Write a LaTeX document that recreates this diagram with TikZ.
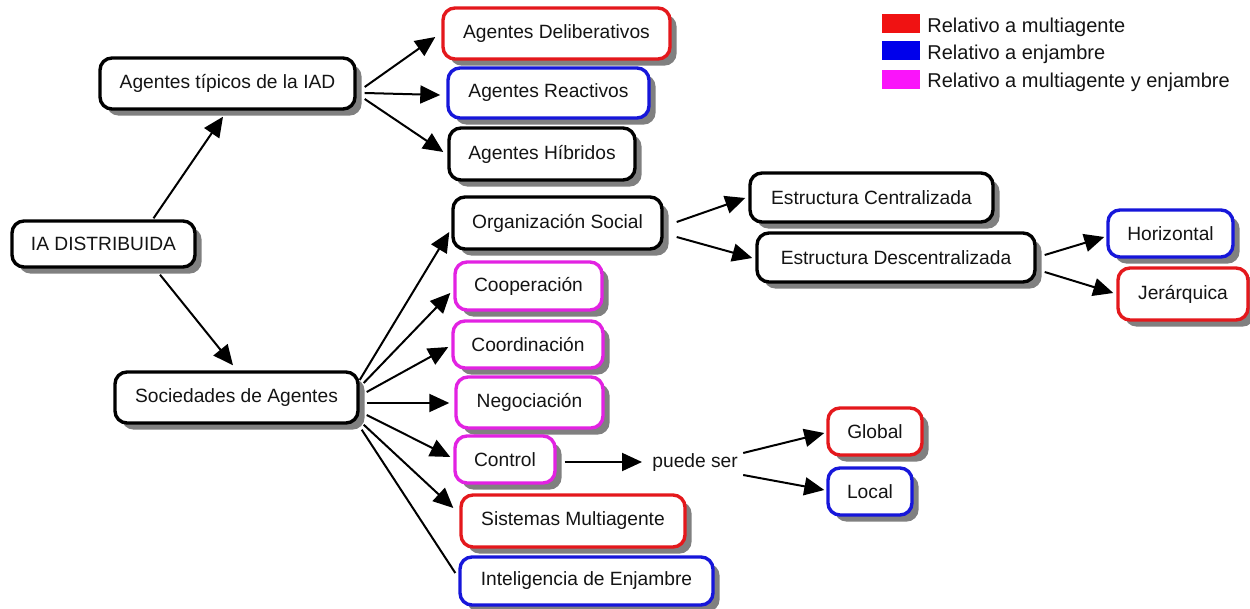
\documentclass[tikz,border=0pt]{standalone}
\usepackage{fontspec}
\setmainfont{Liberation Sans}
\usetikzlibrary{shadows,calc,arrows.meta}

\definecolor{bred}{RGB}{228,24,28}
\definecolor{bblue}{RGB}{22,22,218}
\definecolor{bmag}{RGB}{226,34,226}
\definecolor{lred}{RGB}{240,18,18}
\definecolor{lblue}{RGB}{0,0,235}
\definecolor{lmag}{RGB}{250,20,250}
\definecolor{shgray}{RGB}{128,128,128}
\definecolor{ink}{RGB}{20,20,20}

\newcommand\mapfont{\fontsize{9.6pt}{11pt}\selectfont}
\newcommand\legfont{\fontsize{10pt}{12pt}\selectfont}

\begin{document}
\begin{tikzpicture}[x=0.5pt,y=-0.5pt,
  box/.style={draw=black, rounded corners=6pt, line width=1.7pt, fill=white,
    inner sep=0pt, font=\mapfont, text=ink,
    general shadow={shadow xshift=3.3pt, shadow yshift=-3.3pt, fill=shgray}},
  sz/.style 2 args={minimum width=#1*0.5pt, minimum height=#2*0.5pt},
  redbox/.style={box, draw=bred},
  bluebox/.style={box, draw=bblue},
  magbox/.style={box, draw=bmag},
  arr/.style={line width=1pt, -{Triangle[length=10pt,width=9pt]}},
  ln/.style={line width=1pt},
  legsq/.style={inner sep=0pt, minimum width=19pt, minimum height=9.5pt},
  plain/.style={anchor=west, inner sep=0pt, font=\mapfont, text=ink},
  legtxt/.style={anchor=base west, inner sep=0pt, font=\legfont, text=ink}]

\useasboundingbox (0,0) rectangle (1250,609);

% concept boxes
\node[box, sz={183}{46}] (ia) at (103.5,244) {IA DISTRIBUIDA};
\node[box, sz={255}{51}] (tip) at (227.5,83.5) {Agentes típicos de la IAD};
\node[redbox, sz={227}{51}] (del) at (556.5,33.5) {Agentes Deliberativos};
\node[bluebox, sz={201}{50}] (rea) at (548.5,93) {Agentes Reactivos};
\node[box, sz={186}{52}] (hib) at (542,154) {Agentes Híbridos};
\node[box, sz={209}{52}] (org) at (557.5,223) {Organización Social};
\node[box, sz={243}{49}] (cen) at (871.5,197.5) {Estructura Centralizada};
\node[box, sz={278}{49}] (des) at (896,257.5) {Estructura Descentralizada};
\node[bluebox, sz={125}{47}] (hor) at (1170.5,233.5) {Horizontal};
\node[redbox, sz={130}{52}] (jer) at (1183,294) {Jerárquica};
\node[box, sz={243}{51}] (soc) at (236.5,397.5) {Sociedades de Agentes};
\node[magbox, sz={147}{48}] (coop) at (528.5,286) {Cooperación};
\node[magbox, sz={150}{47}] (coord) at (528,344.5) {Coordinación};
\node[magbox, sz={147}{51}] (neg) at (529.5,402.5) {Negociación};
\node[magbox, sz={100}{47}] (con) at (505,459.5) {Control};
\node[redbox, sz={224}{52}] (sma) at (573,521) {Sistemas Multiagente};
\node[bluebox, sz={253}{48}] (ie) at (586.5,581) {Inteligencia de Enjambre};
\node[redbox, sz={94}{47}] (glo) at (875,431.5) {Global};
\node[bluebox, sz={84}{47}] (loc) at (870,491.5) {Local};
\node[plain] (ps) at (652,463) {puede ser};

% connectors
\draw[arr] ($(ia.north)+(50,-1)$) -- ($(tip.south)+(-4.5,6)$);
\draw[arr] ($(ia.south)+(56.5,6)$) -- ($(soc.north)+(-3.5,-5)$);
\draw[arr] ($(tip.east)+(8,3.5)$) -- ($(del.west)+(-6,3.5)$);
\draw[arr] ($(tip.east)+(8,9.5)$) -- ($(rea.west)+(-6,2)$);
\draw[arr] ($(tip.east)+(8,15.5)$) -- ($(hib.west)+(-4,-2)$);
\draw[arr] ($(org.east)+(13,-1)$) -- ($(cen.west)+(-3,0.5)$);
\draw[arr] ($(org.east)+(13,14)$) -- ($(des.west)+(-3,0.5)$);
\draw[arr] ($(des.east)+(8,-2.5)$) -- ($(hor.west)+(-2,3.5)$);
\draw[arr] ($(des.east)+(8,14.5)$) -- ($(jer.west)+(-3,-1)$);
\draw[arr] ($(soc.east)+(0,-17.5)$) -- ($(org.west)+(-2,9)$);
\draw[arr] ($(soc.east)+(4,-14.5)$) -- ($(coop.west)+(-3,7)$);
\draw[arr] ($(soc.east)+(7,-5.5)$) -- ($(coord.west)+(-3,2.5)$);
\draw[arr] ($(soc.east)+(7,5.5)$) -- ($(neg.west)+(-5,0.5)$);
\draw[arr] ($(soc.east)+(7,17.5)$) -- ($(con.west)+(-3,-2.5)$);
\draw[arr] ($(soc.south east)+(4,0)$) -- ($(sma.west)+(-6,-13)$);
\draw[ln] ($(soc.south east)+(2,5)$) -- ($(ie.west)+(-3,-8)$);
\draw[arr] ($(con.east)+(8,2.5)$) -- ($(ps.west)+(-10,-1)$);
\draw[arr] ($(ps.east)+(5,-10)$) -- ($(glo.west)+(-2,1.5)$);
\draw[arr] ($(ps.east)+(5,12)$) -- ($(loc.west)+(-2,-1.5)$);

% legend
\node[legsq, fill=lred] (sqa) at (901,23.5) {};
\node[legsq, fill=lblue] (sqb) at (901,51) {};
\node[legsq, fill=lmag] (sqc) at (901,79.5) {};
\node[legtxt] (lga) at (927,32.5) {Relativo a multiagente};
\node[legtxt] (lgb) at (927,60) {Relativo a enjambre};
\node[legtxt] (lgc) at (927,88) {Relativo a multiagente y enjambre};

\end{tikzpicture}
\end{document}
